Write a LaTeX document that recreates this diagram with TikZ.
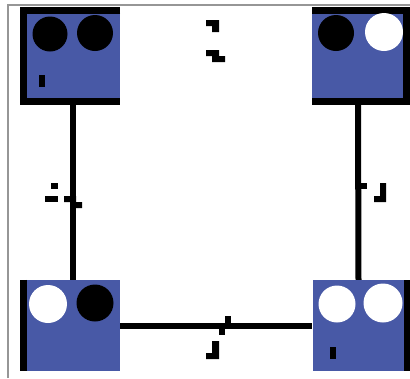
\documentclass[tikz,border=0pt]{standalone}
\definecolor{panelblue}{RGB}{72, 89, 166}
\definecolor{framegray}{RGB}{150, 150, 150}
\usepackage{tikz}
\usetikzlibrary{positioning}

\begin{document}
\begin{tikzpicture}[
        x=1pt, y=-1pt,
        panel/.style={rectangle, fill=panelblue, inner sep=0pt,
                      minimum width=#1, minimum height=90},
        rim/.style={draw=black, line width=7pt, line join=miter},
        wire/.style={draw=black, line width=6pt},
        dot/.style={circle, inner sep=0pt, minimum size=#1},
        tick/.style={fill=black}
      ]
        \useasboundingbox (0,0) rectangle (410,378);
        % frame
        \draw[framegray, line width=2pt] (8,378) -- (8,5) -- (410,5);
        % panels
        \node[panel=96.5] (tl) at (71.75,56) {};
        \node[panel=94.5] (tr) at (359.25,56) {};
        \node[panel=96.5, minimum height=91] (bl) at (71.75,325.5) {};
        \node[panel=94.5, minimum height=91] (br) at (359.75,325.5) {};
        \draw[rim] (tl.north east) -- (tl.north west) -- (tl.south west) -- (tl.south east);
        \draw[rim] (tr.north west) -- (tr.north east) -- (tr.south east) -- (tr.south west);
        \draw[rim] (bl.north west) -- (bl.south west);
        \draw[rim] (br.north east) -- (br.south east);
        % lamps
        \node[dot=35, fill=black] (tla) at (50,34) {};
        \node[dot=36, fill=black] (tlb) at (95,33) {};
        \node[dot=36, fill=black] (tra) at (336,33) {};
        \node[dot=38, fill=white] (trb) at (384,32) {};
        \node[dot=38, fill=white] (bla) at (48,304) {};
        \node[dot=37, fill=black] (blb) at (95,303) {};
        \node[dot=37, fill=white] (bra) at (337,304) {};
        \node[dot=39, fill=white] (brb) at (383,303) {};
        \fill (39,75) rectangle (45,87);
        \fill (330,347) rectangle (336,359);
        % links
        \draw[wire] ([xshift=1.25pt]tl.south) -- ([xshift=1.25pt]bl.north);
        \draw[wire] ([xshift=-1.25pt]tr.south) -- ([xshift=-1.25pt]br.north);
        \draw[wire] (bl.east) -- (br.west);
        % marks
        \fill[tick] (206,20) -- (219,20) -- (219,32) -- (212,32) -- (212,26) -- (206,26) -- cycle;
        \fill[tick] (206,50) -- (219,50) -- (219,56) -- (225,56) -- (225,62) -- (212,62) -- (212,56) -- (206,56) -- cycle;
        \fill[tick] (51,183) rectangle (58,189);
        \fill[tick] (45,196) rectangle (58,202);
        \fill[tick] (64,196) -- (76,196) -- (76,202) -- (82,202) -- (82,208) -- (70,208) -- (70,202) -- (64,202) -- cycle;
        \fill[tick] (361,183) rectangle (367,189);
        \fill[tick] (380,183) -- (386,183) -- (386,202) -- (374,202) -- (374,196) -- (380,196) -- cycle;
        \fill[tick] (225,316) rectangle (231,323);
        \fill[tick] (219,329) rectangle (225,335);
        \fill[tick] (212,341) -- (219,341) -- (219,359) -- (206,359) -- (206,353) -- (212,353) -- cycle;
      \end{tikzpicture}
\end{document}
